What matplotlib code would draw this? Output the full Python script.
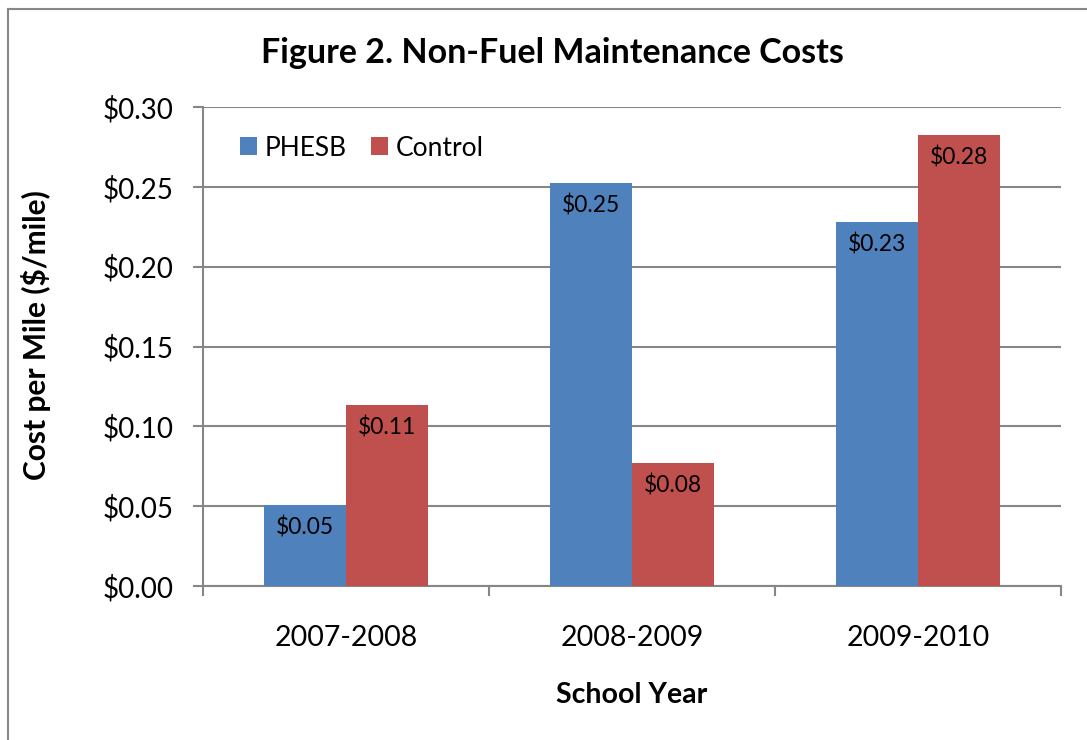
import matplotlib
matplotlib.use('Agg')
from matplotlib import pyplot as plt
from matplotlib.lines import Line2D
import numpy as np

years = ['2007-2008', '2008-2009', '2009-2010']
phesb = [0.0507, 0.2524, 0.228]
control = [0.1134, 0.077, 0.2825]
yticks = [0.00, 0.05, 0.10, 0.15, 0.20, 0.25, 0.30]

plt.rcParams['font.family'] = ['Lato', 'DejaVu Sans']

W, H = 1087, 740
fig = plt.figure(figsize=(W / 100, H / 100), dpi=100)
ax = fig.add_axes([203 / W, 1 - 586 / H, (1061 - 203) / W, (586 - 107) / H])

grey = '#868686'
x = np.arange(len(years))
bw = 0.287
b1 = ax.bar(x - bw / 2, phesb, bw, color='#4F81BD', label='PHESB', zorder=3)
b2 = ax.bar(x + bw / 2, control, bw, color='#C0504D', label='Control', zorder=3)

for bars, vals in [(b1, phesb), (b2, control)]:
    for b, v in zip(bars, vals):
        ax.annotate('$%.2f' % v, (b.get_x() + b.get_width() / 2, v),
                    xytext=(0, -8), textcoords='offset points',
                    ha='center', va='top', fontsize=16.5, zorder=4)

ax.set_xlim(-0.5, 2.5)
ax.set_ylim(0, 0.30)
ax.set_yticks(yticks)
ax.set_yticklabels(['$%.2f' % t for t in yticks], fontsize=20)
ax.yaxis.grid(True, color=grey, linewidth=1.5, zorder=0)
ax.set_axisbelow(True)

ax.set_xticks(x)
ax.set_xticklabels(years, fontsize=20.5)
ax.set_xticks([-0.5, 0.5, 1.5, 2.5], minor=True)
ax.tick_params(axis='x', which='major', length=0, pad=28)
ax.tick_params(axis='x', which='minor', length=7, width=1.5, color=grey)
ax.tick_params(axis='y', length=7, width=1.5, color=grey, pad=14)

for s in ['top', 'right']:
    ax.spines[s].set_visible(False)
for s in ['left', 'bottom']:
    ax.spines[s].set_color(grey)
    ax.spines[s].set_linewidth(1.5)

fig.text(632 / W, 1 - 695 / H, 'School Year', fontsize=20.5,
         fontweight='bold', ha='center', va='center')
fig.text(36 / W, 1 - 335 / H, 'Cost per Mile ($/mile)', fontsize=21.5,
         fontweight='bold', ha='center', va='center', rotation=90)

fig.text(552 / W, 1 - 53 / H, 'Figure 2. Non-Fuel Maintenance Costs',
         fontsize=24.5, fontweight='bold', ha='center', va='center')

ax.legend(loc='upper left', bbox_to_anchor=(229 / W, 1 - 125 / H),
          bbox_transform=fig.transFigure, ncol=2, frameon=False,
          fontsize=19, handlelength=0.65, handleheight=0.65,
          handletextpad=0.3, columnspacing=0.9, borderaxespad=0)

# outer chart border (cut off on right and bottom)
bx, by = 8 / W, 1 - 9 / H
fig.add_artist(Line2D([bx, bx], [0, by], color='#888888', lw=1.5))
fig.add_artist(Line2D([bx, 1], [by, by], color='#888888', lw=1.5))

fig.savefig('out.png', dpi=100)
